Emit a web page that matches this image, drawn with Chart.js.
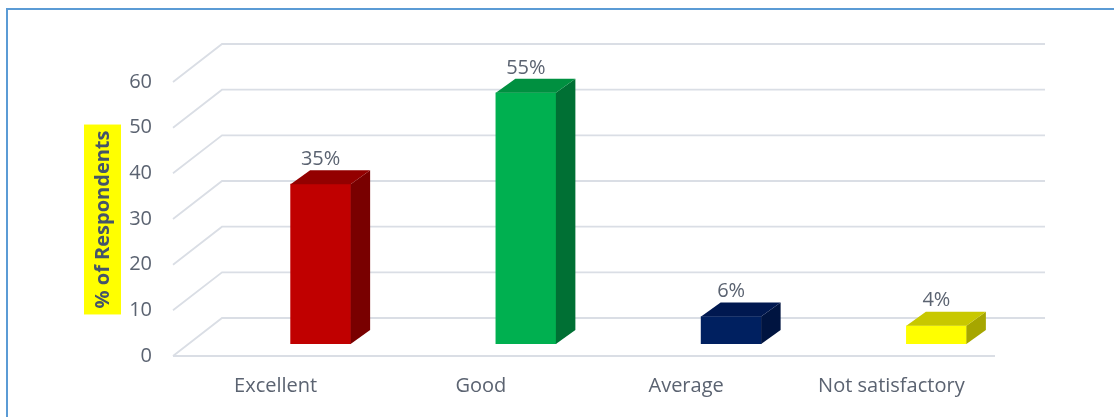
<!DOCTYPE html>
<html>
<head>
<meta charset="utf-8">
<script src="https://cdn.jsdelivr.net/npm/chart.js@4"></script>
<style>
  html, body { margin: 0; padding: 0; background: #ffffff; overflow: hidden; }
  #wrap { position: relative; width: 1114px; height: 417px; }
  #frame { position: absolute; left: 6px; top: 8px; width: 2000px; height: 1000px;
           border-left: 2px solid #5b9bd5; border-top: 2px solid #5b9bd5; box-sizing: border-box; }
  canvas { position: absolute; left: 0; top: 0; }
</style>
</head>
<body>
<div id="wrap">
  <div id="frame"></div>
  <canvas id="c" width="1114" height="417"></canvas>
</div>
<script>
const categories = ["Excellent", "Good", "Average", "Not satisfactory"];
const values = [35, 55, 6, 4];
const yTicks = [0, 10, 20, 30, 40, 50, 60];
const yTitle = "% of Respondents";
const frontColors = ["#c00000", "#00b050", "#002060", "#ffff00"];
const topColors = ["#930000", "#009040", "#001850", "#c8c800"];
const sideColors = ["#790000", "#007034", "#001440", "#a6a600"];

const FONT = '"Open Sans", "DejaVu Sans", sans-serif';
const TEXT_COLOR = "#5b6371";
const GRID_COLOR = "#dadee5";
// oblique depth offsets
const BACK_DX = 4, BACK_DY = -26, FRONT_DX = -45, FRONT_DY = 12;
const BAR_DX = 19.5, BAR_DY = 14;

const threeD = {
  id: "threeD",
  beforeDatasetsDraw(chart) {
    const ctx = chart.ctx, ys = chart.scales.y, ca = chart.chartArea;
    ctx.save();
    ctx.strokeStyle = GRID_COLOR;
    ctx.lineWidth = 1.8;
    yTicks.forEach(v => {
      const py = ys.getPixelForValue(v);
      ctx.beginPath();
      ctx.moveTo(ca.left + FRONT_DX, py + FRONT_DY);
      ctx.lineTo(ca.left + BACK_DX, py + BACK_DY);
      ctx.lineTo(ca.right + 6, py + BACK_DY);
      ctx.stroke();
    });
    const p0 = ys.getPixelForValue(0);
    ctx.beginPath();
    ctx.moveTo(ca.left + FRONT_DX, p0 + FRONT_DY);
    ctx.lineTo(ca.right + FRONT_DX + 1, p0 + FRONT_DY);
    ctx.stroke();
    // tick labels
    ctx.fillStyle = TEXT_COLOR;
    ctx.font = "20px " + FONT;
    ctx.textAlign = "right";
    ctx.textBaseline = "middle";
    yTicks.forEach(v => {
      ctx.fillText(String(v), ca.left - 66, ys.getPixelForValue(v) + FRONT_DY);
    });
    // y title
    ctx.font = "bold 20px " + FONT;
    const tw = ctx.measureText(yTitle).width;
    const cx = 102.5, cy = 219.5;
    ctx.translate(cx, cy);
    ctx.rotate(-Math.PI / 2);
    ctx.fillStyle = "#ffff00";
    ctx.fillRect(-tw / 2 - 6, -18.5, tw + 12, 37);
    ctx.fillStyle = "#44546a";
    ctx.textAlign = "center";
    ctx.fillText(yTitle, 0, 1);
    ctx.restore();
  },
  afterDatasetsDraw(chart) {
    const ctx = chart.ctx, meta = chart.getDatasetMeta(0), ys = chart.scales.y;
    ctx.save();
    meta.data.forEach((bar, i) => {
      const l = bar.x - bar.width / 2, r = bar.x + bar.width / 2, t = bar.y, b = bar.base;
      ctx.fillStyle = sideColors[i];
      ctx.beginPath();
      ctx.moveTo(r, t); ctx.lineTo(r + BAR_DX, t - BAR_DY);
      ctx.lineTo(r + BAR_DX, b - BAR_DY); ctx.lineTo(r, b); ctx.closePath(); ctx.fill();
      ctx.fillStyle = topColors[i];
      ctx.beginPath();
      ctx.moveTo(l, t); ctx.lineTo(l + BAR_DX, t - BAR_DY);
      ctx.lineTo(r + BAR_DX, t - BAR_DY); ctx.lineTo(r, t); ctx.closePath(); ctx.fill();
      // data label
      ctx.fillStyle = TEXT_COLOR;
      ctx.font = "20px " + FONT;
      ctx.textAlign = "center";
      ctx.textBaseline = "middle";
      ctx.fillText(values[i] + "%", bar.x, t - 25);
      // category label
      ctx.fillText(categories[i], bar.x + FRONT_DX, ys.getPixelForValue(0) + 42);
    });
    ctx.restore();
  }
};

new Chart(document.getElementById("c"), {
  type: "bar",
  data: {
    labels: categories,
    datasets: [{
      data: values,
      backgroundColor: frontColors,
      borderWidth: 0,
      barThickness: 60
    }]
  },
  options: {
    responsive: false,
    animation: false,
    layout: { padding: { left: 218, right: 75, top: 70, bottom: 73 } },
    plugins: { legend: { display: false }, tooltip: { enabled: false } },
    scales: {
      x: { display: false },
      y: { display: false, min: 0, max: 60 }
    }
  },
  plugins: [threeD]
});
</script>
</body>
</html>
